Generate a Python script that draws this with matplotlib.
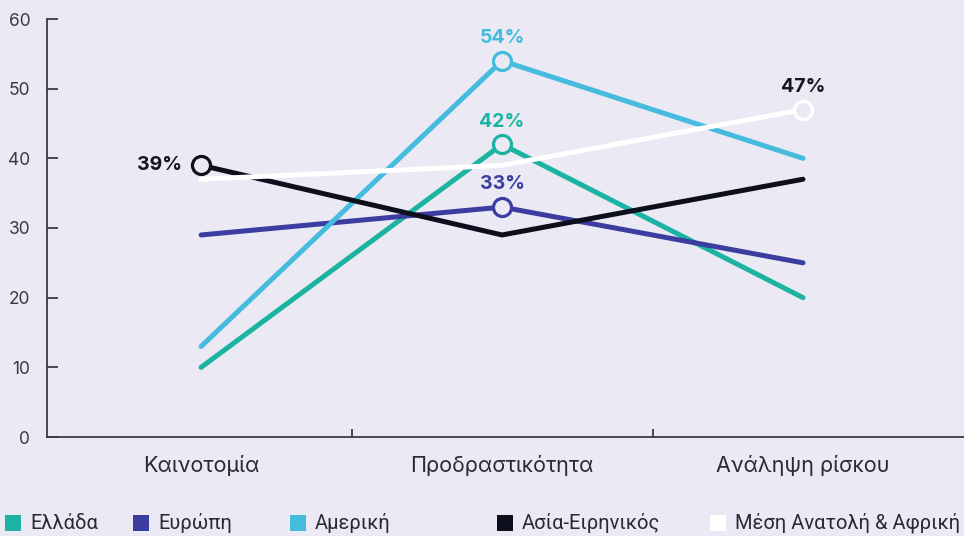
import matplotlib
matplotlib.use("Agg")
import matplotlib.pyplot as plt
from matplotlib.patches import Rectangle

categories = ["Καινοτομία", "Προδραστικότητα", "Ανάληψη ρίσκου"]
series_names = ["Ελλάδα", "Ευρώπη", "Αμερική", "Ασία-Ειρηνικός", "Μέση Ανατολή & Αφρική"]
greece = [10, 42, 20]
europe = [29, 33, 25]
america = [13, 54, 40]
asia = [39, 29, 37]
mena = [37, 39, 47]
# index of highlighted point per series
highlight = [1, 1, 1, 0, 2]
yticks = [0, 10, 20, 30, 40, 50, 60]

colors = ["#1bb3a2", "#3b3da0", "#45bbde", "#0e0f1c", "#ffffff"]
bg = "#eae9f4"
values = [greece, europe, america, asia, mena]
label_colors = ["#1bb3a2", "#3b3da0", "#45bbde", "#15161f", "#15161f"]

plt.rcParams['font.family'] = ['Inter', 'DejaVu Sans']
fig = plt.figure(figsize=(9.64, 5.36), dpi=100, facecolor=bg)
ax = fig.add_axes([47/964, 1-437/536, 1-47/964, (437-19)/536])
ax.set_facecolor(bg)

x = list(range(len(categories)))
order = [4, 3, 1, 0, 2]
for i in order:
    ax.plot(x, values[i], color=colors[i], lw=3.6, solid_capstyle='round', zorder=2+i)
for i in order:
    h = highlight[i]
    ax.plot(x[h], values[i][h], 'o', ms=13, mfc=bg, mec=colors[i], mew=2.3, zorder=10)
    if h == 0:
        ax.annotate(f"{values[i][h]}%", (x[h], values[i][h]), xytext=(-14, 0),
                    textcoords='offset points', ha='right', va='center',
                    fontsize=14, fontweight='bold', color=label_colors[i], zorder=11)
    else:
        ax.annotate(f"{values[i][h]}%", (x[h], values[i][h]), xytext=(0, 10),
                    textcoords='offset points', ha='center', va='bottom',
                    fontsize=14, fontweight='bold', color=label_colors[i], zorder=11)

ax.set_xlim(-0.512, 2.535)
ax.set_ylim(0, 60)
ax.set_yticks(yticks)
ax.set_yticklabels([str(t) for t in yticks], fontsize=12.5, color="#3a3a40")
ax.tick_params(axis='y', direction='in', length=8, width=1.3, color="#3a3a40", pad=12)
ax.set_xticks(x)
ax.set_xticklabels(categories, fontsize=15.5, color="#2a2a30")
ax.set_xticks([0.5, 1.5], minor=True)
ax.tick_params(axis='x', which='major', length=0, pad=13)
ax.tick_params(axis='x', which='minor', direction='in', length=6, width=1.3, color="#3a3a40")
for s in ['top', 'right']:
    ax.spines[s].set_visible(False)
for s in ['left', 'bottom']:
    ax.spines[s].set_color("#3a3a40")
    ax.spines[s].set_linewidth(1.3)

# legend
leg_x = [5, 133, 290, 497, 710]
for i, name in enumerate(series_names):
    fig.patches.append(Rectangle((leg_x[i]/964, 1-531/536), 16/964, 16/536,
                                 transform=fig.transFigure, facecolor=colors[i],
                                 edgecolor='none'))
    fig.text((leg_x[i]+25)/964, 1-523/536, name, fontsize=14.5, color="#2a2a30",
             va='center', ha='left', family=['Roboto', 'DejaVu Sans'])

fig.savefig("out.png", dpi=100, facecolor=bg)
